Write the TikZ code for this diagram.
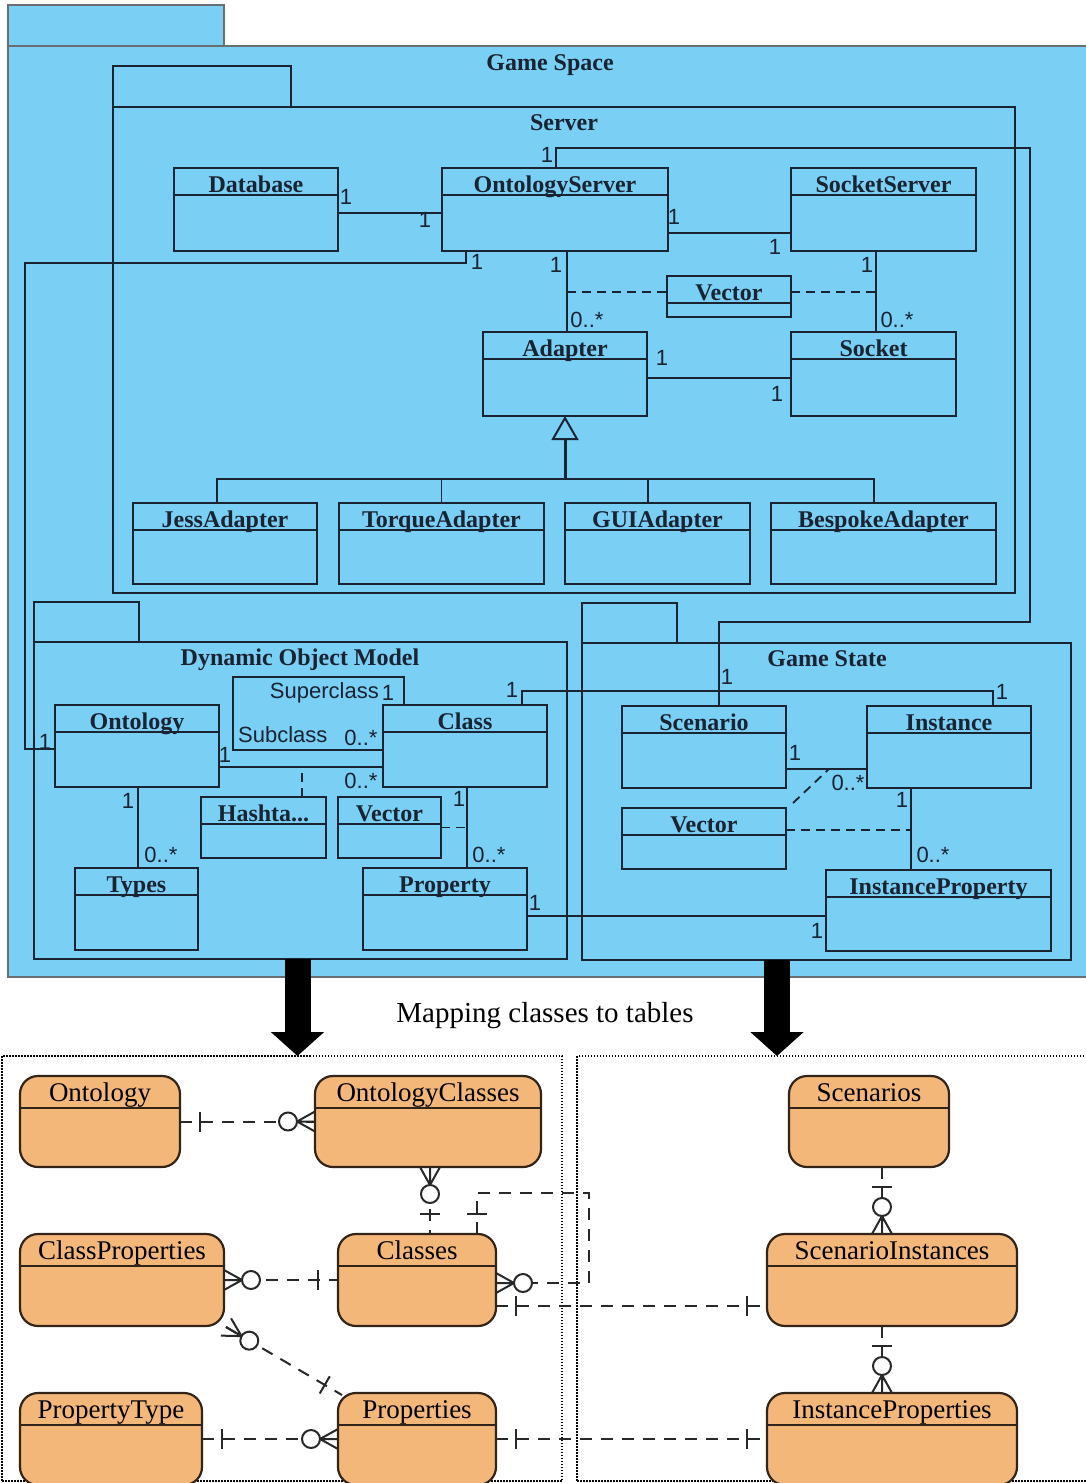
\documentclass[tikz,border=0pt]{standalone}
\usepackage{fontspec}
\setmainfont{Liberation Serif}
\setsansfont{Liberation Sans}
\usetikzlibrary{calc,arrows.meta}

\definecolor{pkgblue}{RGB}{122,207,245}
\definecolor{umlink}{RGB}{25,35,50}
\definecolor{pkgedge}{RGB}{105,110,115}
\definecolor{tableorange}{RGB}{244,183,122}
\definecolor{tableedge}{RGB}{50,36,24}
\definecolor{relink}{RGB}{40,40,40}

\newcommand{\umltitlefont}{\fontsize{24pt}{26pt}\selectfont\bfseries}
\newcommand{\umlmultfont}{\sffamily\fontsize{22pt}{24pt}\selectfont}
\newcommand{\umlrolefont}{\sffamily\fontsize{22pt}{24pt}\selectfont}
\newcommand{\tabletitlefont}{\fontsize{27pt}{30pt}\selectfont}
\newcommand{\mapcaptionfont}{\fontsize{29pt}{32pt}\selectfont}

\tikzset{
  outerpart/.style={draw=pkgedge, line width=1.8pt, fill=pkgblue, inner sep=0pt, outer sep=0pt, anchor=north west},
  pkgpart/.style={draw=umlink, line width=1.8pt, fill=pkgblue, inner sep=0pt, outer sep=0pt, anchor=north west},
  pkgtitle/.style={anchor=base, inner sep=0pt, font=\umltitlefont, text=umlink},
  classbox/.style={draw=umlink, line width=1.8pt, inner sep=0pt, outer sep=0pt, anchor=north west},
  umlrule/.style={draw=umlink, line width=1.8pt},
  classname/.style={anchor=base, inner sep=0pt, font=\umltitlefont, text=umlink},
  assoc/.style={draw=umlink, line width=1.8pt},
  assocdash/.style={assoc, dash pattern=on 9pt off 6pt},
  mult/.style={inner sep=0pt, font=\umlmultfont, text=umlink},
  role/.style={inner sep=0pt, font=\umlrolefont, text=umlink},
  bigarrow/.style={draw=black, line width=26pt, -{Triangle[width=52pt,length=24pt]}},
  panel/.style={draw=black, line width=1.5pt, dash pattern=on 1.5pt off 1.5pt, inner sep=0pt, outer sep=0pt, anchor=north west},
  tablebox/.style={draw=tableedge, line width=2.2pt, fill=tableorange, rounded corners=18pt, inner sep=0pt, outer sep=0pt, anchor=north west},
  tablerule/.style={draw=tableedge, line width=1.8pt},
  tablename/.style={anchor=base, inner sep=0pt, font=\tabletitlefont, text=black},
  erlink/.style={draw=relink, line width=2pt, dash pattern=on 12pt off 9pt},
  ersym/.style={draw=relink, line width=2pt, solid},
  caption/.style={anchor=base, inner sep=0pt, font=\mapcaptionfont}
}

% UML class: name, left, top, width, height, title
\newcommand{\umlclass}[6]{%
  \node[classbox, minimum width=#4pt, minimum height=#5pt] (#1) at (#2,#3) {};
  \draw[umlrule] ([yshift=-27pt]#1.north west) -- ([yshift=-27pt]#1.north east);
  \node[classname] (#1-name) at ([yshift=-24pt]#1.north) {#6};
}
% database table: name, left, top, width, height, title
\newcommand{\ertable}[6]{%
  \node[tablebox, minimum width=#4pt, minimum height=#5pt] (#1) at (#2,#3) {};
  \draw[tablerule] ([yshift=-32pt]#1.north west) -- ([yshift=-32pt]#1.north east);
  \node[tablename] (#1-name) at ([yshift=-25pt]#1.north) {#6};
}
% "exactly one" bar near end #1 of a link running towards #2
\newcommand{\erone}[2]{%
  \coordinate (erone-p) at ($(#1)!20pt!(#2)$);
  \draw[ersym] ($(erone-p)!10pt!90:(#2)$) -- ($(erone-p)!10pt!-90:(#2)$);
}
% "zero or many" crow's foot and ring at end #1 of a link running towards #2
\newcommand{\ermany}[2]{%
  \coordinate (ermany-p) at ($(#1)!18pt!(#2)$);
  \draw[ersym] ($(#1)!10pt!90:(#2)$) -- (ermany-p) -- ($(#1)!10pt!-90:(#2)$) (#1) -- (ermany-p);
  \draw[ersym, fill=white] ($(#1)!27pt!(#2)$) circle (9pt);
}

\begin{document}
\begin{tikzpicture}[x=1pt, y=-1pt]
\useasboundingbox (0,0) rectangle (1085,1483);

% ---------- packages ----------
\node[outerpart, minimum width=216pt, minimum height=41pt] (gsTab) at (8,5) {};
\node[outerpart, minimum width=1090pt, minimum height=931pt] (gsBody) at (8,46) {};
\node[pkgtitle] (gsTitle) at (550,70) {Game Space};

\node[pkgpart, minimum width=178pt, minimum height=41pt] (srvTab) at (113,66) {};
\node[pkgpart, minimum width=902pt, minimum height=486pt] (srvBody) at (113,107) {};
\node[pkgtitle] (srvTitle) at (564,130) {Server};

\node[pkgpart, minimum width=105pt, minimum height=40pt] (domTab) at (34,602) {};
\node[pkgpart, minimum width=533pt, minimum height=317pt] (domBody) at (34,642) {};
\node[pkgtitle] (domTitle) at (300,665) {Dynamic Object Model};

\node[pkgpart, minimum width=95pt, minimum height=40pt] (gstTab) at (582,603) {};
\node[pkgpart, minimum width=489pt, minimum height=317pt] (gstBody) at (582,643) {};
\node[pkgtitle] (gstTitle) at (827,666) {Game State};

% ---------- server classes ----------
\umlclass{sDb}{174}{168}{164}{83}{Database}
\umlclass{sOS}{442}{168}{226}{83}{OntologyServer}
\umlclass{sSS}{791}{168}{185}{83}{SocketServer}
\umlclass{sVec}{667}{276}{124}{41}{Vector}
\umlclass{sAd}{483}{332}{164}{84}{Adapter}
\umlclass{sSock}{791}{332}{165}{84}{Socket}
\umlclass{sJess}{133}{503}{184}{81}{JessAdapter}
\umlclass{sTorq}{339}{503}{205}{81}{TorqueAdapter}
\umlclass{sGUI}{565}{503}{185}{81}{GUIAdapter}
\umlclass{sBesp}{771}{503}{225}{81}{BespokeAdapter}

% ---------- dynamic object model classes ----------
\umlclass{dOnt}{55}{705}{164}{82}{Ontology}
\umlclass{dCls}{383}{705}{164}{82}{Class}
\umlclass{dHash}{201}{797}{125}{61}{Hashta...}
\umlclass{dVec}{338}{797}{103}{61}{Vector}
\umlclass{dTypes}{75}{868}{123}{82}{Types}
\umlclass{dProp}{363}{868}{164}{82}{Property}

% ---------- game state classes ----------
\umlclass{gScen}{622}{706}{164}{82}{Scenario}
\umlclass{gInst}{867}{706}{164}{82}{Instance}
\umlclass{gVec}{622}{808}{164}{61}{Vector}
\umlclass{gIP}{826}{870}{225}{81}{InstanceProperty}

% ---------- server associations ----------
\coordinate (c1a) at ([yshift=-3.5pt]sDb.east);
\draw[assoc] (c1a) -- (c1a -| sOS.west);
\coordinate (c2a) at ([yshift=-23.5pt]sOS.east);
\draw[assoc] (c2a) -- (c2a -| sSS.west);
\coordinate (c3a) at ([xshift=12pt]sOS.south);
\draw[assoc] (c3a) -- (c3a |- sAd.north);
\coordinate (c4a) at ([xshift=-7.5pt]sSS.south);
\draw[assoc] (c4a) -- (c4a |- sSock.north);
\coordinate (c5a) at ([yshift=-4pt]sAd.east);
\draw[assoc] (c5a) -- (c5a -| sSock.west);
\coordinate (v1) at ([yshift=4.5pt]sVec.west);
\coordinate (v2) at ([yshift=4.5pt]sVec.east);
\draw[assocdash] (v1 -| c3a) -- (v1);
\draw[assocdash] (v2) -- (v2 -| c4a);

% generalisation of the adapters
\coordinate (gbus) at ([yshift=-63pt]sAd.south);
\coordinate (gj) at ([xshift=-8pt]sJess.north);
\coordinate (gt) at (sTorq.north);
\coordinate (gg) at ([xshift=-9.5pt]sGUI.north);
\coordinate (gb) at ([xshift=-9.5pt]sBesp.north);
\draw[assoc] (gj) -- (gj |- gbus) -- (gb |- gbus) -- (gb);
\draw[assoc] (gt) -- (gt |- gbus);
\draw[assoc] (gg) -- (gg |- gbus);
\draw[assoc, line width=3pt, -{Triangle[open, width=27pt, length=24pt, line width=2pt]}] (gbus) -- (sAd.south);

% OntologyServer -- Scenario
\coordinate (c7a) at ([xshift=1pt]sOS.north);
\coordinate (c7b) at ([xshift=15pt]gScen.north);
\coordinate (k1) at (1030,148);
\coordinate (k2) at (1030,622);
\draw[assoc] (c7a) -- (c7a |- k1) -- (k1) -- (k2) -- (k2 -| c7b) -- (c7b);

% OntologyServer -- Ontology
\coordinate (c8a) at ([xshift=24pt]sOS.south west);
\coordinate (c8b) at ([yshift=-3pt]dOnt.west);
\coordinate (k3) at (25,263);
\draw[assoc] (c8a) -- (c8a |- k3) -- (k3) -- (k3 |- c8b) -- (c8b);

% ---------- dynamic object model associations ----------
\coordinate (c9a) at ([xshift=-61pt]dCls.north);
\coordinate (k4) at (233,677);
\coordinate (c9b) at ([yshift=-4pt]dCls.west);
\draw[assoc] (c9a) -- (c9a |- k4) -- (k4) -- (k4 |- c9b) -- (c9b);

\coordinate (c10a) at ([yshift=-21pt]dOnt.east);
\draw[assoc] (c10a) -- (c10a -| dCls.west);
\coordinate (c11a) at ([xshift=38.5pt]dHash.north);
\draw[assocdash] (c11a) -- (c11a |- c10a);

\coordinate (c12a) at ([xshift=1pt]dOnt.south);
\draw[assoc] (c12a) -- (c12a |- dTypes.north);
\coordinate (c12b) at ([xshift=2pt]dCls.south);
\draw[assoc] (c12b) -- (c12b |- dProp.north);
\draw[assocdash] (dVec.east) -- (dVec.east -| c12b);

% Class -- Instance
\coordinate (c13a) at ([xshift=57pt]dCls.north);
\coordinate (c13b) at ([xshift=44pt]gInst.north);
\coordinate (k5) at (522,691);
\draw[assoc] (c13a) -- (c13a |- k5) -- (c13b |- k5) -- (c13b);

% ---------- game state associations ----------
\coordinate (c14a) at ([yshift=-22pt]gScen.east);
\draw[assoc] (c14a) -- (c14a -| gInst.west);
\coordinate (gvd) at ([xshift=7pt,yshift=5pt]gVec.north east);
\coordinate (gvm) at ($(c14a)!0.53!(c14a -| gInst.west)$);
\draw[assocdash] (gvd) -- (gvm);
\coordinate (c15a) at ([xshift=-38pt]gInst.south);
\draw[assoc] (c15a) -- (c15a |- gIP.north);
\coordinate (c16a) at ([yshift=8.5pt]gVec.east);
\draw[assocdash] (c16a) -- (c16a -| c15a);

% Property -- InstanceProperty
\coordinate (c17a) at ([yshift=-7pt]dProp.east);
\draw[assoc] (c17a) -- (c17a -| gIP.west);

% ---------- multiplicities and roles ----------
\node[mult] (m1) at (346,197) {1};
\node[mult] (m2) at (425,220) {1};
\node[mult] (m3) at (674,217) {1};
\node[mult] (m4) at (775,247) {1};
\node[mult] (m5) at (477,262) {1};
\node[mult] (m6) at (556,265) {1};
\node[mult] (m7) at (867,265) {1};
\node[mult] (m8) at (587,320) {0..*};
\node[mult] (m9) at (897,320) {0..*};
\node[mult] (m10) at (662,358) {1};
\node[mult] (m11) at (777,394) {1};
\node[mult] (m12) at (547,155) {1};

\node[mult] (m13) at (45,742) {1};
\node[role, anchor=base east] (rSuper) at (379,698) {Superclass};
\node[mult] (m14) at (388,693) {1};
\node[role, anchor=base west] (rSub) at (238,742) {Subclass};
\node[mult] (m15) at (361,738) {0..*};
\node[mult] (m16) at (225,755) {1};
\node[mult] (m17) at (361,781) {0..*};
\node[mult] (m18) at (128,801) {1};
\node[mult] (m19) at (161,855) {0..*};
\node[mult] (m20) at (459,799) {1};
\node[mult] (m21) at (489,855) {0..*};
\node[mult] (m22) at (512,690) {1};
\node[mult] (m23) at (535,903) {1};

\node[mult] (m24) at (727,677) {1};
\node[mult] (m25) at (1002,692) {1};
\node[mult] (m26) at (795,753) {1};
\node[mult] (m27) at (848,783) {0..*};
\node[mult] (m28) at (902,800) {1};
\node[mult] (m29) at (933,855) {0..*};
\node[mult] (m30) at (817,931) {1};

% ---------- mapping to tables ----------
\node[panel, minimum width=560pt, minimum height=425pt] (erLeft) at (2,1056) {};
\node[panel, minimum width=515pt, minimum height=425pt] (erRight) at (577,1056) {};
\node[caption] (mapText) at (545,1022) {Mapping classes to tables};

\coordinate (a1s) at ([xshift=-3pt]domBody.south);
\coordinate (a2s) at ([xshift=-49.5pt]gstBody.south);
\draw[bigarrow] (a1s) -- (a1s |- erLeft.north);
\draw[bigarrow] (a2s) -- (a2s |- erRight.north);

% ---------- tables ----------
\ertable{tOnt}{20}{1076}{160}{91}{Ontology}
\ertable{tOntCls}{315}{1076}{226}{91}{OntologyClasses}
\ertable{tClsProp}{20}{1234}{204}{92}{ClassProperties}
\ertable{tClasses}{338}{1234}{158}{92}{Classes}
\ertable{tPropType}{20}{1393}{182}{92}{PropertyType}
\ertable{tProps}{338}{1393}{158}{92}{Properties}
\ertable{tScen}{789}{1076}{160}{91}{Scenarios}
\ertable{tScenInst}{767}{1234}{250}{92}{ScenarioInstances}
\ertable{tInstProp}{767}{1393}{250}{92}{InstanceProperties}

% ---------- table relationships ----------
% Ontology -- OntologyClasses
\draw[erlink] (tOnt.east) -- (tOntCls.west);
\erone{tOnt.east}{tOntCls.west}
\ermany{tOntCls.west}{tOnt.east}

% OntologyClasses -- Classes
\coordinate (r2a) at ([xshift=2pt]tOntCls.south);
\coordinate (r2b) at (r2a |- tClasses.north);
\draw[erlink] (r2a) -- (r2b);
\ermany{r2a}{r2b}
\erone{r2b}{r2a}

% Classes -- Classes (superclass)
\coordinate (r3a) at ([xshift=-19pt]tClasses.north east);
\coordinate (r3b) at ($(r3a)+(0,-41)$);
\coordinate (r3c) at (589,1193);
\coordinate (r3e) at (589,1283);
\coordinate (r3d) at ([yshift=-3pt]tClasses.east);
\draw[erlink] (r3a) -- (r3b) -- (r3c) -- (r3e) -- (r3d);
\erone{r3a}{r3b}
\ermany{r3d}{r3e}

% ClassProperties -- Classes
\draw[erlink] (tClsProp.east) -- (tClasses.west);
\ermany{tClsProp.east}{tClasses.west}
\erone{tClasses.west}{tClsProp.east}

% ClassProperties -- Properties
\coordinate (r5a) at ([xshift=2pt,yshift=-1pt]tClsProp.south east);
\coordinate (r5b) at ([xshift=4pt,yshift=-2pt]tProps.north west);
\draw[erlink] (r5a) -- (r5b);
\ermany{r5a}{r5b}
\erone{r5b}{r5a}

% PropertyType -- Properties
\draw[erlink] (tPropType.east) -- (tProps.west);
\erone{tPropType.east}{tProps.west}
\ermany{tProps.west}{tPropType.east}

% Properties -- InstanceProperties
\draw[erlink] (tProps.east) -- (tInstProp.west);
\erone{tProps.east}{tInstProp.west}
\erone{tInstProp.west}{tProps.east}

% Classes -- ScenarioInstances
\coordinate (r8a) at ([yshift=-26pt]tClasses.east);
\coordinate (r8b) at (r8a -| tScenInst.west);
\draw[erlink] (r8a) -- (r8b);
\erone{r8a}{r8b}
\erone{r8b}{r8a}

% Scenarios -- ScenarioInstances
\coordinate (r9a) at ([xshift=13pt]tScen.south);
\coordinate (r9b) at (r9a |- tScenInst.north);
\draw[erlink] (r9a) -- (r9b);
\erone{r9a}{r9b}
\ermany{r9b}{r9a}

% ScenarioInstances -- InstanceProperties
\coordinate (r10a) at (r9a |- tScenInst.south);
\coordinate (r10b) at (r9a |- tInstProp.north);
\draw[erlink] (r10a) -- (r10b);
\erone{r10a}{r10b}
\ermany{r10b}{r10a}

\end{tikzpicture}
\end{document}
